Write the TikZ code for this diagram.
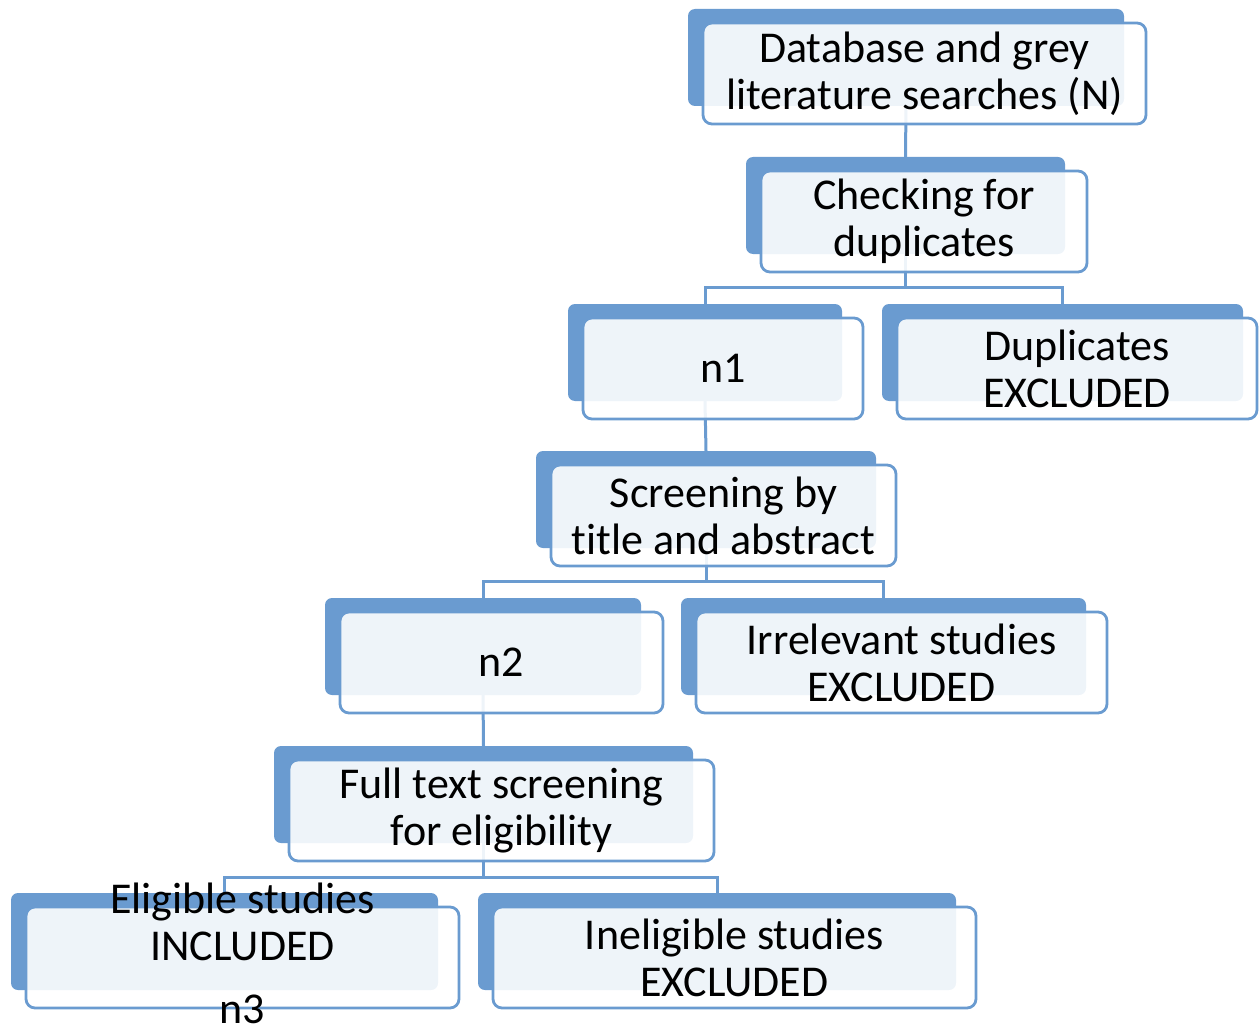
\documentclass[tikz,border=0pt]{standalone}
\usepackage{fontspec}
\setmainfont{Carlito}[Ligatures=NoCommon]
\definecolor{stepblue}{RGB}{106,155,208}
\pgfdeclarelayer{connectors}
\pgfsetlayers{connectors,main}
% a step: solid blue card (name+b) behind a translucent white card (name) holding the text
\newcommand\flowstep[6]{%
  \node[backbox, minimum width=#4pt] (#1b) at (#2,#3) {};
  \node[frontbox, minimum width=#5pt] (#1) at ([shift={(15,14)}]#1b.north west) {#6};
}
\begin{document}
\begin{tikzpicture}[x=1pt,y=-1pt,
  backbox/.style={fill=stepblue, rounded corners=7pt, minimum height=97pt,
    inner sep=0pt, outer sep=0pt},
  frontbox/.style={draw=stepblue, line width=2.8pt, fill=white, fill opacity=0.89,
    text opacity=1, rounded corners=9pt, minimum height=101pt, inner sep=0pt,
    outer sep=0pt, anchor=north west, align=center, steptext},
  steptext/.style={font=\fontsize{44}{47}\selectfont, align=center, text=black},
  conn/.style={draw=stepblue, line width=3pt}]
\useasboundingbox (0,0) rectangle (1259,1030);

\flowstep{db}{906}{57.5}{436}{443}{Database and grey\\literature searches (N)}
\flowstep{chk}{905.5}{205.5}{319}{326}{Checking for\\duplicates}
\flowstep{n1}{705}{352.5}{274}{280}{n1}
\flowstep{dup}{1062.5}{352.5}{361}{360}{Duplicates\\EXCLUDED}
\flowstep{scr}{706}{499.5}{340}{345}{Screening by\\title and abstract}
\flowstep{n2}{483}{646.5}{316}{323}{n2}
\flowstep{irr}{883.5}{646.5}{405}{411}{Irrelevant studies\\EXCLUDED}
\flowstep{ft}{483.5}{794.5}{419}{425}{Full text screening\\for eligibility}
\flowstep{elig}{224.5}{941.5}{427}{433}{}
\flowstep{inel}{717}{941.5}{478}{483}{Ineligible studies\\EXCLUDED}
\node[steptext] (eligtext) at ([yshift=4pt]elig.center)
  {Eligible studies\\INCLUDED\\[16pt]n3};

\begin{pgfonlayer}{connectors}
  \draw[conn] (dbb.south) -- (chkb.north);
  \draw[conn] (n1b.north) -- ++(0,-17) coordinate (j1) -| (dupb.north);
  \draw[conn] (chkb.south) -- (chkb.south |- j1);
  \draw[conn] (n1b.south) -- (scrb.north);
  \draw[conn] (n2b.north) -- ++(0,-17) coordinate (j2) -| (irrb.north);
  \draw[conn] (scrb.south) -- (scrb.south |- j2);
  \draw[conn] (n2b.south) -- (ftb.north);
  \draw[conn] (eligb.north) -- ++(0,-16) coordinate (j3) -| (inelb.north);
  \draw[conn] (ftb.south) -- (ftb.south |- j3);
\end{pgfonlayer}
\end{tikzpicture}
\end{document}
